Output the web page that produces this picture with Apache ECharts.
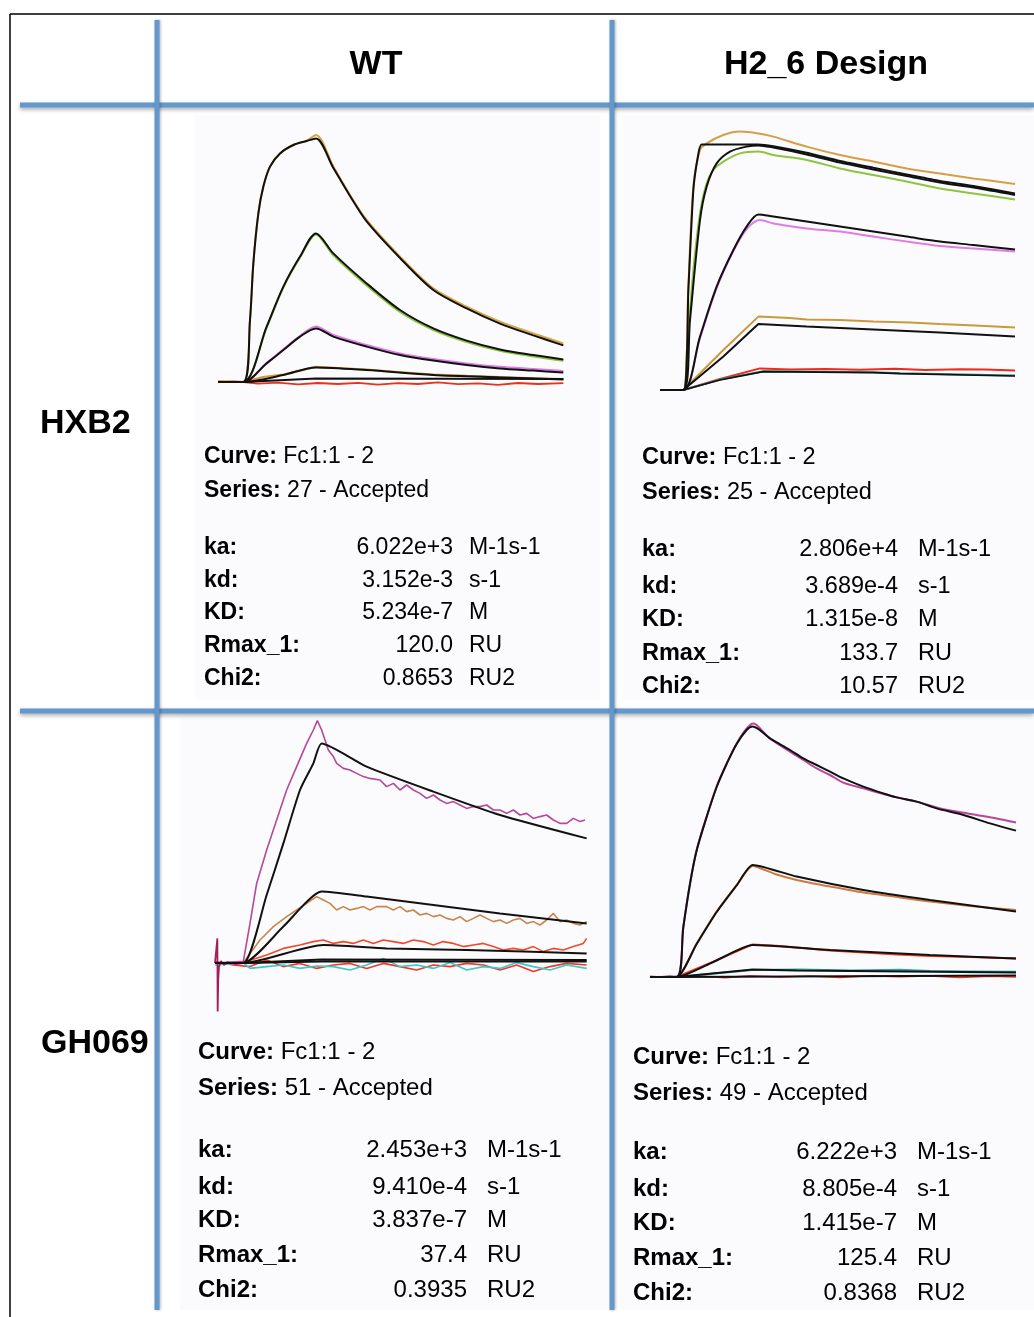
<!DOCTYPE html>
<html><head><meta charset="utf-8">
<script src="https://cdn.jsdelivr.net/npm/echarts/dist/echarts.min.js"></script>
<style>html,body{margin:0;padding:0;background:#fff}#c{width:1034px;height:1317px}</style>
</head><body><div id="c"></div>
<script>
// ---------- Table text ----------
const columnHeaders = ['WT', 'H2_6 Design'];
const rowHeaders = ['HXB2', 'GH069'];
const statLabels = ['ka:', 'kd:', 'KD:', 'Rmax_1:', 'Chi2:'];
const statUnits = ['M-1s-1', 's-1', 'M', 'RU', 'RU2'];
const curveName = 'Fc1:1 - 2';
const seriesNumbers = [27, 25, 51, 49];
const wtHxb2Vals = ['6.022e+3', '3.152e-3', '5.234e-7', '120.0', '0.8653'];
const h26Hxb2Vals = ['2.806e+4', '3.689e-4', '1.315e-8', '133.7', '10.57'];
const wtGh069Vals = ['2.453e+3', '9.410e-4', '3.837e-7', '37.4', '0.3935'];
const h26Gh069Vals = ['6.222e+3', '8.805e-4', '1.415e-7', '125.4', '0.8368'];

// ---------- Sensorgram data: [time (s), response (RU)] ----------
// Panel 1: WT / HXB2
const p1Obs1 = [[0,0.5],[50.7,0],[64,31],[70.7,59.3],[80.7,84.3],[90.7,97.7],[104,107.7],[124,114.3],[150.7,118.5],[177.3,120.7],[196,123.5],[230.7,107.7],[264,93.5],[297.3,81],[364,62.7],[430.7,46.8],[497.3,37.7],[564,30.2],[630.7,24.3],[690.7,19.3]];
const p1Fit1 = [[0,0],[50.7,0],[64,31],[70.7,59.3],[80.7,84.3],[90.7,97.7],[104,107.7],[124,114.3],[150.7,118.5],[177.3,120.5],[196,121.8],[230.7,107],[264,93],[297.3,80.3],[364,62],[430.7,46],[497.3,36.8],[564,29.2],[630.7,23.3],[690.7,18.3]];
const p1Obs2 = [[0,0],[50.7,0],[97.3,27.2],[130.7,47.2],[164,62.2],[196,73.8],[230.7,63.3],[297.3,48.3],[364,35],[430.7,26],[497.3,20],[564,15.6],[630.7,12.8],[690.7,10.6]];
const p1Fit2 = [[0,0],[50.7,0],[97.3,27.7],[130.7,47.7],[164,62.7],[196,74.3],[230.7,64.3],[297.3,49.3],[364,36],[430.7,26.8],[497.3,20.7],[564,16.3],[630.7,13.5],[690.7,11.3]];
const p1Obs3 = [[0,0],[50.7,0],[97.3,9.5],[130.7,16.3],[164,23],[196,27.7],[230.7,23.5],[297.3,18.5],[364,14.3],[430.7,11.5],[497.3,9.3],[564,7.6],[630.7,6.5],[690.7,5.5]];
const p1Fit3 = [[0,0],[50.7,0],[97.3,9.3],[130.7,16],[164,22.7],[196,26.8],[230.7,22.7],[297.3,17.7],[364,13.5],[430.7,10.7],[497.3,8.5],[564,6.8],[630.7,5.7],[690.7,4.7]];
const p1Obs4 = [[0,0],[50.7,0],[90,2.5],[130.7,3.8],[170,6],[196,7.6],[240,7],[297.3,6.2],[360,5],[430.7,3.8],[497.3,3.1],[564,2.5],[630.7,1.9],[690.7,1.5]];
const p1Fit4 = [[0,0],[50.7,0],[130.7,3.5],[196,7.3],[297.3,6],[430.7,3.5],[564,2.3],[690.7,1.3]];
const p1Fit5 = [[0,0],[50.7,0],[196,1.7],[690.7,1.5]];
const p1Obs5 = [[0,0],[30,0.3],[50.7,0],[80,-0.8],[120,-0.3],[160,-1.2],[200,-0.5],[240,-1],[280,-0.4],[320,-1.3],[360,-0.6],[400,-1],[440,-0.2],[480,-1.1],[520,-0.7],[560,-1.4],[600,-0.5],[640,-1],[690.7,-0.6]];

// Panel 2: H2_6 Design / HXB2
const p2Obs1 = [[0,0],[46.7,0],[56.7,51.7],[66.7,101.7],[80,120],[93.3,123.3],[126.7,127.5],[160,129.2],[196.7,128.3],[226.7,126.7],[293.3,121.7],[360,117.5],[426.7,114.2],[493.3,110.8],[560,108.3],[626.7,105.8],[710,103]];
const p2Fit1 = [[0,0],[46.7,0],[56.7,50],[66.7,100],[76,117],[83.3,122.8],[196.7,122.8],[226.7,121.9],[293.3,118.6],[360,114.5],[426.7,111.1],[493.3,107.8],[560,104.5],[626.7,102],[710,98.3]];
const p2Obs2 = [[0,0],[46.7,0],[53.3,18.3],[66.7,60],[80,88.3],[93.3,103.3],[106.7,110],[126.7,114.2],[160,118.3],[196.7,119.2],[226.7,117.5],[293.3,115],[360,110.8],[426.7,107.5],[493.3,104.2],[560,100.8],[626.7,98.3],[710,95.3]];
const p2Fit2 = [[0,0],[46.7,0],[60,35],[80,85],[93.3,101.7],[113.3,113.3],[140,119.2],[173.3,121.7],[196.7,122.3],[226.7,121.2],[293.3,117.8],[360,113.7],[426.7,110.3],[493.3,107],[560,103.7],[626.7,101.2],[710,97.5]];
const p2Obs3 = [[0,0],[46.7,0],[80,26],[113.3,51],[146.7,69.5],[173.3,80.5],[200,85],[226.7,83.3],[293.3,80.8],[360,79.2],[426.7,76.7],[493.3,74.2],[560,72],[626.7,70.8],[710,69.2]];
const p2Fit3 = [[0,0],[46.7,0],[80,26.7],[113.3,51.7],[146.7,70],[173.3,81.7],[196.7,87.8],[226.7,86.7],[293.3,84.2],[360,81.7],[426.7,79.2],[493.3,76.7],[560,74.2],[626.7,72.5],[710,70.3]];
const p2Obs4 = [[0,0],[46.7,0],[126.7,20],[196.7,36.7],[260,36],[293.3,35.3],[360,35],[426.7,34.2],[500,33.8],[560,33],[630,32.2],[710,31.3]];
const p2Fit4 = [[0,0],[46.7,0],[126.7,16.7],[196.7,33],[293.3,31.7],[426.7,30.3],[560,28.7],[710,26.7]];
const p2Obs5 = [[0,0],[46.7,0],[120,5.5],[200,10.8],[260,10.2],[330,10.5],[400,10.1],[470,10.6],[530,10],[600,10.4],[650,10.2],[710,9.7]];
const p2Obs6 = [[0,0],[46.7,0],[120,5.2],[206.7,9.4],[426.7,8.9],[480,8.4],[710,7.3]];
const p2Fit5 = [[0,0],[46.7,0],[120,5],[206.7,9.2],[426.7,8.7],[480,8.2],[710,7]];

// Panel 3: WT / GH069
const p3Spike = [[0,0],[3,1],[4.7,12.3],[5.3,-24.3],[6.5,-8],[8,-2],[12,1],[18,-1],[25,0.5],[40,-0.5],[56.7,0]];
const p3Obs1 = [[0,0],[56.7,0.8],[70,19.8],[83.3,39.8],[103.3,56.5],[123.3,71.5],[143.3,86.5],[163.3,98.2],[183.3,109.8],[196.7,116.5],[204.7,121.2],[213.3,116.5],[226.7,106.5],[236.7,103.2],[243.3,99.8],[256.7,97.3],[270,96.5],[283.3,94.8],[296.7,93.2],[310,92.3],[330,91.5],[343.3,88.2],[356.7,89.8],[370,86.5],[383.3,89],[396.7,86.5],[410,84.8],[423.3,82.3],[436.7,84],[450,81.5],[463.3,79.8],[476.7,80.7],[490,79],[503.3,77.3],[516.7,78.2],[530,78.2],[543.3,79],[556.7,76.5],[570,76.5],[583.3,74.8],[596.7,76.5],[610,74],[623.3,74.8],[636.7,72.3],[650,73.2],[663.3,74],[676.7,71.5],[690,69.8],[703.3,69.8],[716.7,72.3],[730,70.7],[740,71.5]];
const p3Fit1 = [[0,0],[56.7,0],[103.3,34],[136.7,59.8],[170,86.5],[196.7,99.8],[213.3,109.8],[303.3,98.2],[436.7,85.7],[570,74],[743.3,62.3]];
const p3Obs2 = [[0,0],[56.7,0.2],[90,11.5],[116.7,18.2],[143.3,23.2],[163.3,26.5],[183.3,29.8],[203.3,33.2],[216.7,31.5],[230,29.8],[243.3,26.5],[256.7,28.2],[270,26.5],[283.3,27.3],[296.7,28.2],[310,26.5],[323.3,28.2],[343.3,28.2],[356.7,26.5],[370,28.2],[383.3,25.7],[396.7,26.5],[410,24],[423.3,24.8],[436.7,23.2],[450,24],[463.3,22.3],[476.7,21.5],[490,23.2],[503.3,20.7],[516.7,22.3],[530,24],[543.3,22.3],[556.7,20.7],[570,21.5],[583.3,19.8],[596.7,21.5],[610,22.3],[623.3,19.8],[636.7,20.7],[650,19],[663.3,21.5],[676.7,24.8],[690,20.7],[703.3,21.5],[716.7,19.8],[730,19],[743.3,20.7]];
const p3Fit2 = [[0,0],[56.7,0],[136.7,18.2],[213.3,35.7],[303.3,33.2],[436.7,29],[570,24.8],[743.3,19.8]];
const p3Obs3 = [[0,0],[56.7,0.2],[103.3,4],[136.7,7.3],[170,9],[196.7,10.7],[216.7,11.5],[236.7,9.8],[256.7,10.7],[276.7,9.8],[296.7,11.5],[316.7,9.8],[336.7,11.5],[356.7,10.7],[376.7,9.8],[396.7,11.5],[416.7,10.7],[436.7,9],[456.7,10.7],[476.7,9.8],[496.7,8.2],[516.7,9],[536.7,9.8],[556.7,8.2],[576.7,6.5],[596.7,7.3],[616.7,6.5],[636.7,8.2],[656.7,5.7],[676.7,7.3],[696.7,6.5],[716.7,8.2],[736.7,9.8],[743.3,12.3]];
const p3Fit3 = [[0,0],[56.7,0],[216.7,9],[343.3,7.3],[503.3,6.5],[743.3,4.8]];
const p3Fit4 = [[0,0],[56.7,0],[213.3,1.8],[743.3,1.5]];
const p3Fit5 = [[0,0],[56.7,0],[213.3,0.8],[743.3,0.8]];
const p3Obs4 = [[0,-1],[56.7,0.2],[70,-2.7],[103.3,-1.8],[136.7,-1],[170,-2.7],[203.3,-1.5],[236.7,-1.8],[270,-3.5],[303.3,-1],[336.7,2.3],[370,-1.8],[403.3,-1],[436.7,-2.7],[470,0.2],[503.3,-3.5],[536.7,-1.8],[570,-2.7],[603.3,0.2],[636.7,-1.8],[670,-3.5],[703.3,-1],[743.3,-2.7]];
const p3Obs5 = [[0,0.7],[36.7,-1],[70,-1.8],[103.3,1.5],[136.7,-1.8],[170,-0.2],[203.3,-2.7],[236.7,-1],[270,-0.2],[303.3,-2.7],[336.7,-0.2],[370,-1.8],[403.3,-3.5],[436.7,-1],[470,-1.8],[503.3,-0.2],[536.7,-1],[570,-3.5],[603.3,-1],[636.7,-4.3],[670,-1.8],[703.3,-0.2],[743.3,-1]];

// Panel 4: H2_6 Design / GH069
const p4Obs1 = [[0,0],[53.3,0.2],[66.7,25.2],[80,46.8],[93.3,63.5],[113.3,80.2],[133.3,95.2],[153.3,106.8],[173.3,116.8],[193.3,124.3],[206.7,126.8],[213.3,126],[240,119.3],[280,112.7],[306.7,108.5],[333.3,104.3],[360,101],[386.7,97.2],[426.7,94.3],[466.7,91.5],[493.3,89.8],[533.3,87.7],[573.3,84.8],[613.3,82.7],[653.3,81],[693.3,79.3],[732,77.2]];
const p4Fit1 = [[0,0],[53.3,0],[66.7,25],[80,46.5],[93.3,63.2],[113.3,80],[133.3,95],[153.3,106.5],[173.3,116.5],[193.3,123.5],[205.3,125.2],[240,119.3],[280,113.5],[306.7,109.3],[333.3,106],[360,102.7],[386.7,99.3],[426.7,95.2],[466.7,91.8],[493.3,89.8],[533.3,87.7],[573.3,84.3],[626.7,81],[680,76.8],[732,73.2]];
const p4Obs2 = [[0,0],[53.3,0],[93.3,16.8],[133.3,32.7],[173.3,46],[205.3,55.5],[250,51.5],[293.3,48.5],[360,45.2],[426.7,42.2],[500,39.8],[560,37.7],[640,35.5],[732,33.5]];
const p4Fit2 = [[0,0],[53.3,0],[93.3,16.5],[133.3,32.5],[173.3,45.8],[205.3,56],[293.3,50.2],[426.7,43.5],[560,38.5],[732,32.7]];
const p4Obs3 = [[0,0],[53.3,0],[126.7,7.7],[205.3,16.3],[260,15.5],[360,13.2],[493.3,11.3],[560,10.5],[640,10],[732,9.3]];
const p4Fit3 = [[0,0],[53.3,0],[126.7,7.5],[205.3,16],[360,13.5],[560,11],[732,9.3]];
const p4Obs4 = [[0,0],[53.3,0],[205.3,3.5],[300,3.8],[400,3.3],[500,3.6],[560,3],[640,2.8],[732,2.6]];
const p4Fit4 = [[0,0],[53.3,0],[205.3,3.7],[293.3,3.3],[732,2.2]];
const p4Fit5 = [[0,0],[53.3,0],[732,0.8]];
const p4Obs5 = [[0,0.3],[20,0],[40,0.5],[53.3,0],[100,0.5],[150,-0.3],[200,0.6],[260,0],[320,0.5],[380,-0.2],[440,0.6],[500,0.1],[560,0.5],[620,-0.2],[680,0.4],[732,0]];

// ---------- Layout / style ----------
const FONT = '"Liberation Sans", Arial, Helvetica, sans-serif';
const BLUE = '#6497cb';
const grids = [
  {left: 218, top: 132, width: 350, height: 250, xmax: 700, ymin: 0, ymax: 125},
  {left: 660, top: 120, width: 360, height: 270, xmax: 720, ymin: 0, ymax: 135},
  {left: 215, top: 713, width: 372, height: 310, xmax: 744, ymin: -30, ymax: 125},
  {left: 650, top: 717, width: 366, height: 260, xmax: 732, ymin: 0, ymax: 130}
];

function ln(data, color, gi, width, smooth, z) {
  return {type: 'line', data: data, xAxisIndex: gi, yAxisIndex: gi, showSymbol: false, symbol: 'none',
    smooth: smooth, clip: false, silent: true, z: z || 2, animation: false,
    lineStyle: {color: color, width: width}};
}
const K = '#111';
const series = [
  // panel 1
  ln(p1Obs5, '#e8321e', 0, 1.8, false), ln(p1Obs4, '#d39a38', 0, 2, false),
  ln(p1Obs3, '#e07ae8', 0, 2, 0.3), ln(p1Obs2, '#8cc43c', 0, 2, 0.3), ln(p1Obs1, '#d9a441', 0, 2, 0.3),
  ln(p1Fit5, K, 0, 2, false, 3), ln(p1Fit4, K, 0, 2, 0.3, 3), ln(p1Fit3, K, 0, 2, 0.3, 3),
  ln(p1Fit2, K, 0, 2, 0.3, 3), ln(p1Fit1, K, 0, 2, 0.3, 3),
  // panel 2
  ln(p2Obs5, '#ee2a1a', 1, 2, false), ln(p2Obs6, '#2a8f86', 1, 2, false), ln(p2Obs4, '#c99a3a', 1, 2, false),
  ln(p2Obs3, '#df7ce6', 1, 2, 0.3), ln(p2Obs2, '#8fc43f', 1, 2, 0.3), ln(p2Obs1, '#d4a043', 1, 2, 0.3),
  ln(p2Fit5, K, 1, 1.6, false, 3), ln(p2Fit4, K, 1, 2, false, 3), ln(p2Fit3, K, 1, 2, 0.3, 3),
  ln(p2Fit2, K, 1, 2, 0.3, 3), ln(p2Fit1, K, 1, 2, 0.2, 3),
  // panel 3
  ln(p3Obs5, '#ee3a2a', 2, 1.6, false), ln(p3Obs4, '#3cc8cc', 2, 1.6, false),
  ln(p3Obs3, '#f04a2a', 2, 1.6, false), ln(p3Obs2, '#c8864a', 2, 1.6, false), ln(p3Obs1, '#b5489a', 2, 1.6, false),
  ln(p3Spike, '#a0205a', 2, 1.8, false),
  ln(p3Fit5, K, 2, 2, false, 3), ln(p3Fit4, K, 2, 2, false, 3), ln(p3Fit3, K, 2, 2, 0.2, 3),
  ln(p3Fit2, K, 2, 2, 0.2, 3), ln(p3Fit1, K, 2, 2, 0.2, 3),
  // panel 4
  ln(p4Obs5, '#ee3322', 3, 1.6, false), ln(p4Obs4, '#2aa8a8', 3, 2, false), ln(p4Obs3, '#f03c22', 3, 2, false),
  ln(p4Obs2, '#cc7a40', 3, 2, 0.2), ln(p4Obs1, '#b8479c', 3, 2, 0.3),
  ln(p4Fit5, K, 3, 2, false, 3), ln(p4Fit4, K, 3, 2, false, 3), ln(p4Fit3, K, 3, 2, 0.2, 3),
  ln(p4Fit2, K, 3, 2, 0.2, 3), ln(p4Fit1, K, 3, 2, 0.3, 3)
];

// ---------- Table graphics ----------
const graphic = [];
function hline(x1, x2, y, color, w, shadow) {
  graphic.push({type: 'line', shape: {x1: x1, y1: y, x2: x2, y2: y}, z: 10,
    style: {stroke: color, lineWidth: w, shadowColor: shadow ? 'rgba(0,0,0,0.35)' : 'transparent', shadowBlur: shadow ? 4 : 0, shadowOffsetY: shadow ? 2 : 0}});
}
function vline(x, y1, y2, color, w, shadow) {
  graphic.push({type: 'line', shape: {x1: x, y1: y1, x2: x, y2: y2}, z: 10,
    style: {stroke: color, lineWidth: w, shadowColor: shadow ? 'rgba(0,0,0,0.3)' : 'transparent', shadowBlur: shadow ? 3 : 0, shadowOffsetX: shadow ? 1 : 0}});
}
// faint panel backgrounds
[[195,115,405,585],[622,115,412,585],[180,718,428,592],[620,718,414,592]].forEach(function(r){
  graphic.push({type:'rect', shape:{x:r[0], y:r[1], width:r[2], height:r[3]}, z:-10, style:{fill:'#fbfbfd'}});
});
// outer border
hline(10, 1034, 14, '#000', 1.5, false);
vline(10, 14, 1317, '#000', 1.5, false);
// blue grid lines
hline(20, 1034, 105, BLUE, 5, true);
hline(20, 1034, 711, BLUE, 5, true);
vline(157, 20, 1310, BLUE, 5, true);
vline(612, 20, 1310, BLUE, 5, true);

function txt(x, y, s, size, weight, align, rich) {
  const st = {text: s, x: x, y: y, fill: '#000', font: weight + ' ' + size + 'px ' + FONT,
    align: align || 'left', verticalAlign: 'middle'};
  if (rich) st.rich = rich;
  graphic.push({type: 'text', z: 20, style: st});
}
txt(376, 65, columnHeaders[0], 34, 'bold', 'center');
txt(826, 65, columnHeaders[1], 34, 'bold', 'center');
txt(40, 424, rowHeaders[0], 34, 'bold', 'left');
txt(41, 1044, rowHeaders[1], 34, 'bold', 'left');

const statPanels = [
  {vals: wtHxb2Vals, n: seriesNumbers[0], lx: 204, vr: 453, ux: 469, cy: 457, sy: 491, rows: [548,581,613,646,679], fs: 23},
  {vals: h26Hxb2Vals, n: seriesNumbers[1], lx: 642, vr: 898, ux: 918, cy: 458, sy: 493, rows: [550,587,620,654,687], fs: 23.5},
  {vals: wtGh069Vals, n: seriesNumbers[2], lx: 198, vr: 467, ux: 487, cy: 1052, sy: 1088, rows: [1150,1187,1220,1255,1290], fs: 24},
  {vals: h26Gh069Vals, n: seriesNumbers[3], lx: 633, vr: 897, ux: 917, cy: 1057, sy: 1093, rows: [1152,1189,1223,1258,1293], fs: 24}
];
statPanels.forEach(function(p) {
  const rich = {b: {font: 'bold ' + p.fs + 'px ' + FONT, fill: '#000'}, r: {font: p.fs + 'px ' + FONT, fill: '#000'}};
  txt(p.lx, p.cy, '{b|Curve:}{r| ' + curveName + '}', p.fs, 'normal', 'left', rich);
  txt(p.lx, p.sy, '{b|Series:}{r| ' + p.n + ' - Accepted}', p.fs, 'normal', 'left', rich);
  statLabels.forEach(function(l, i) {
    txt(p.lx, p.rows[i], l, p.fs, 'bold', 'left');
    txt(p.vr, p.rows[i], p.vals[i], p.fs, 'normal', 'right');
    txt(p.ux, p.rows[i], statUnits[i], p.fs, 'normal', 'left');
  });
});

const chart = echarts.init(document.getElementById('c'), null, {renderer: 'canvas', width: 1034, height: 1317});
chart.setOption({
  backgroundColor: '#ffffff',
  animation: false,
  grid: grids.map(function(g){ return {left: g.left, top: g.top, width: g.width, height: g.height, containLabel: false, show: false}; }),
  xAxis: grids.map(function(g, i){ return {type: 'value', gridIndex: i, min: 0, max: g.xmax, show: false}; }),
  yAxis: grids.map(function(g, i){ return {type: 'value', gridIndex: i, min: g.ymin, max: g.ymax, show: false}; }),
  series: series,
  graphic: graphic
});
</script>
</body></html>
